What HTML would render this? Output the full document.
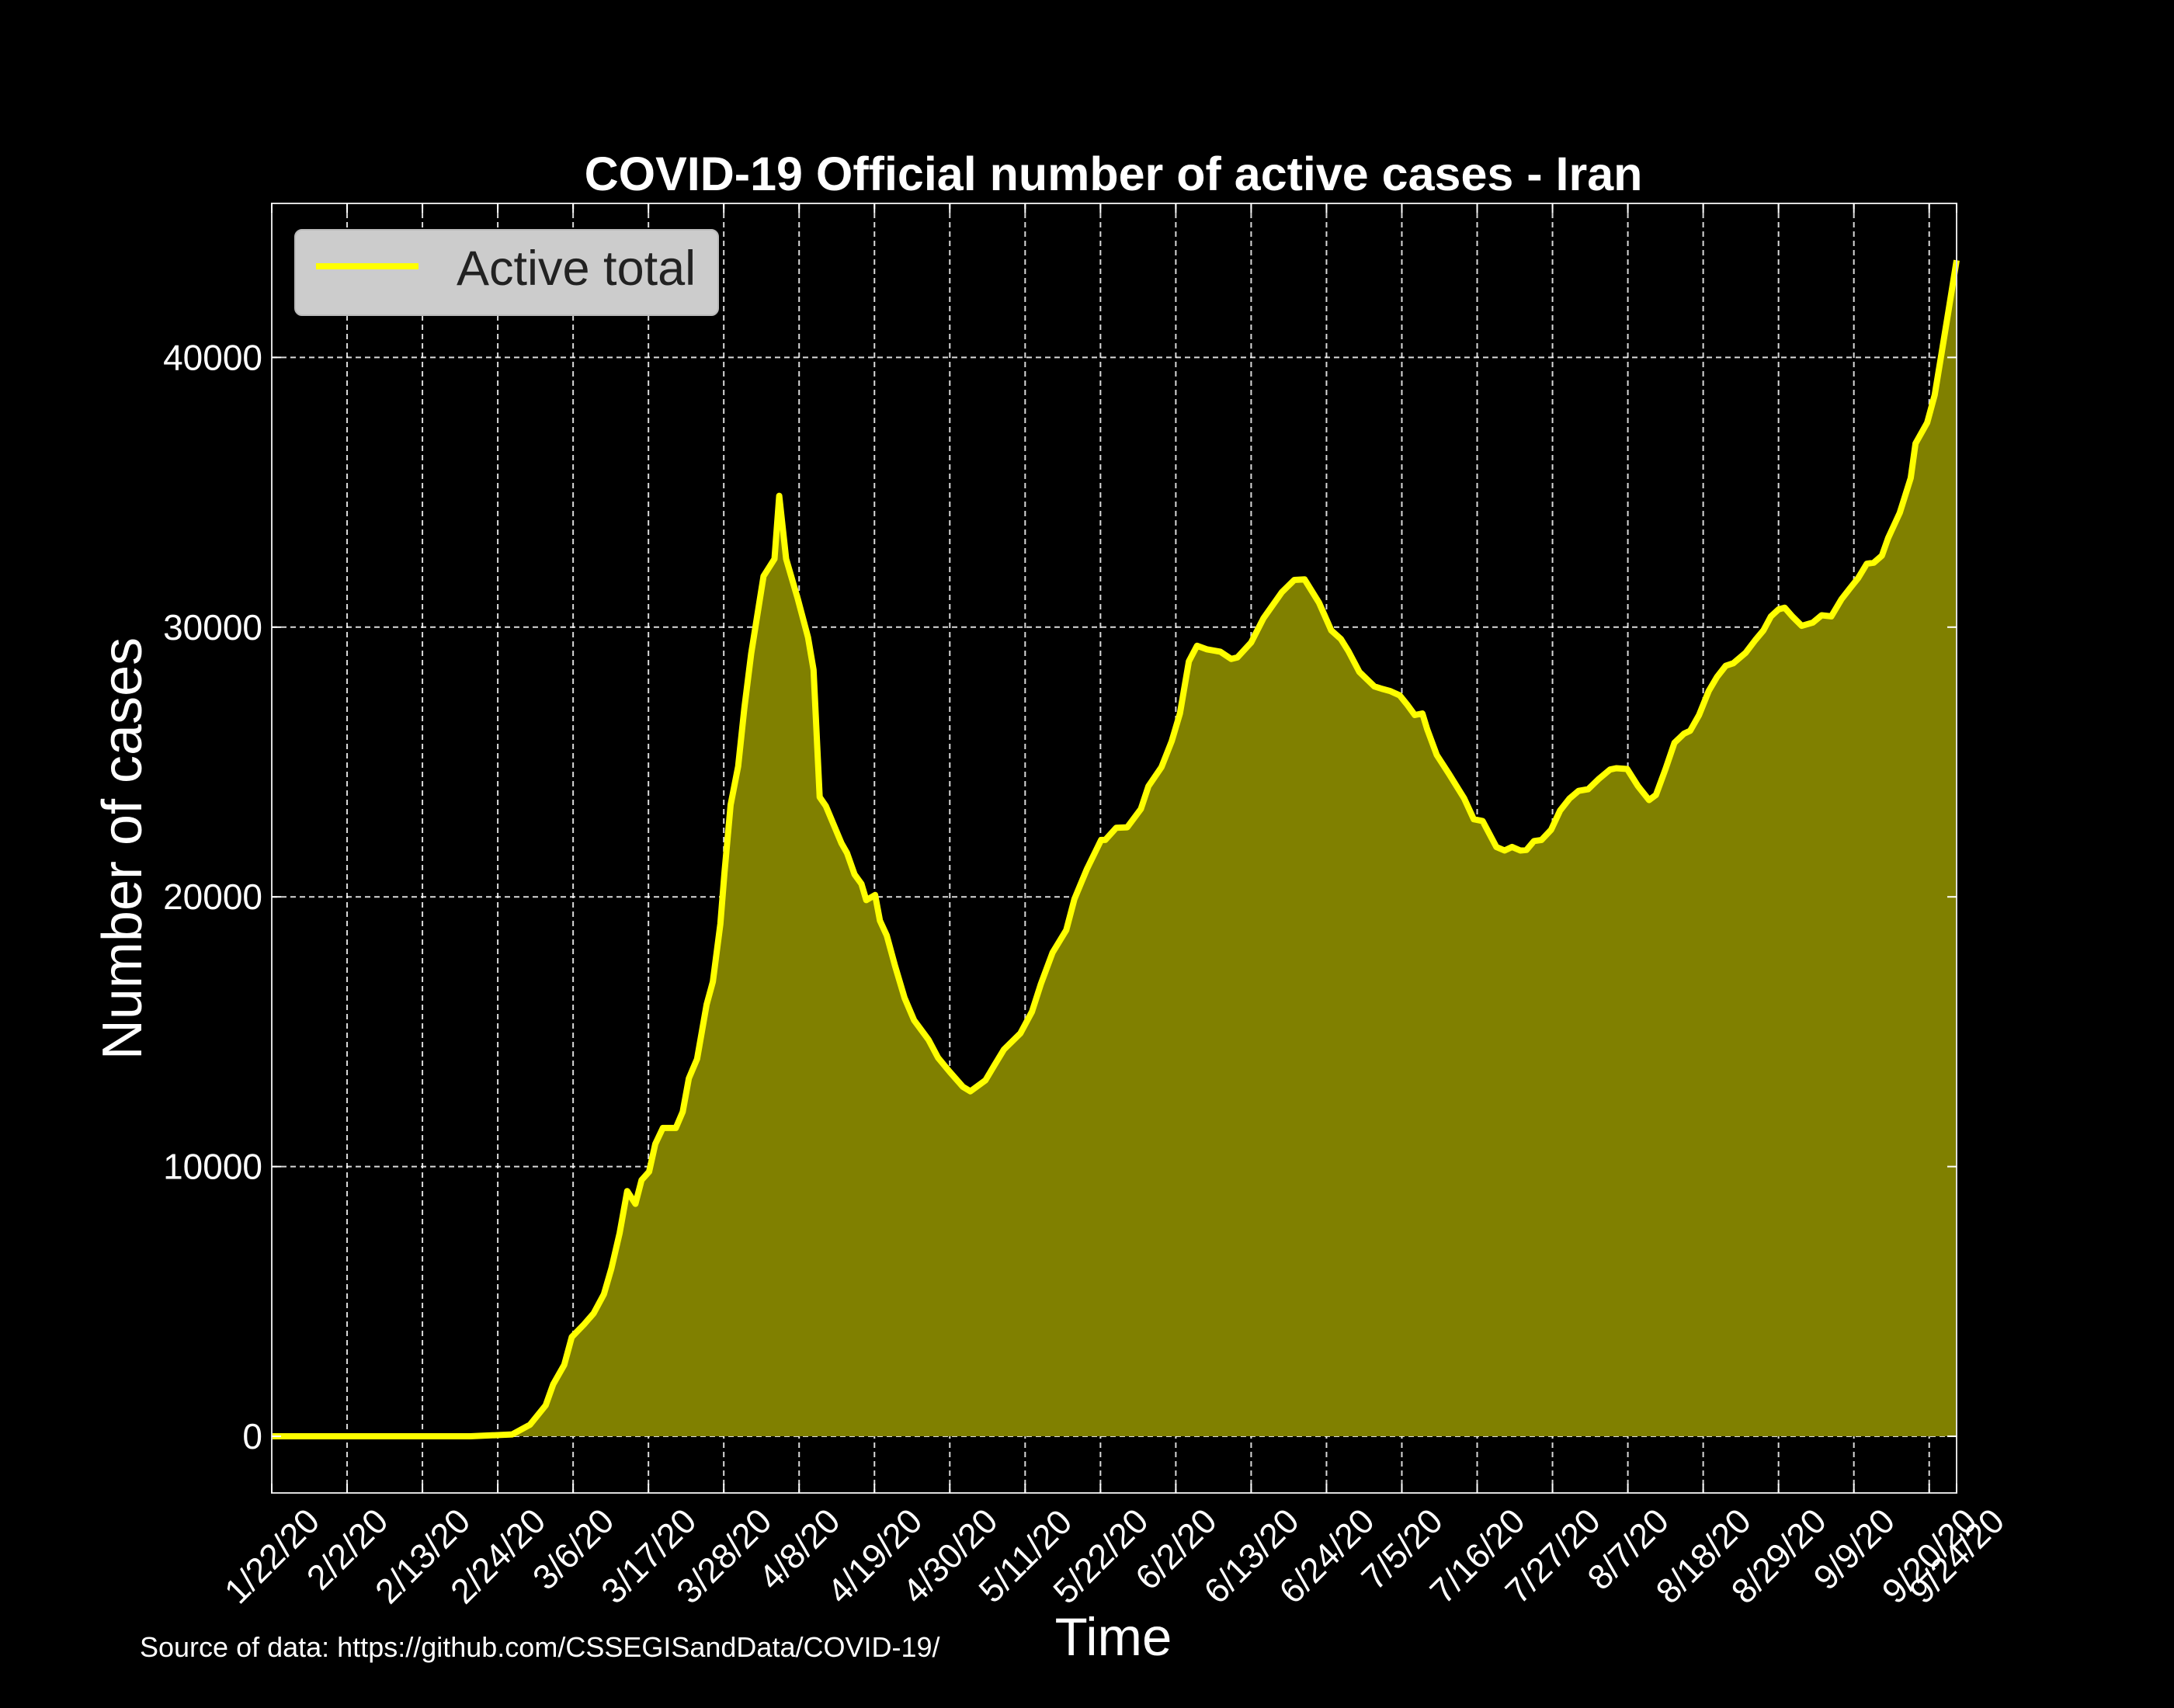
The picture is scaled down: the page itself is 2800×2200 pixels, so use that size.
<!DOCTYPE html>
<html><head><meta charset="utf-8"><style>
html,body{margin:0;padding:0;background:#000;}
svg{display:block;font-family:"Liberation Sans",Arial,sans-serif;}
</style></head><body>
<svg id="chart" width="2800" height="2200" viewBox="0 0 2800 2200" xmlns="http://www.w3.org/2000/svg">
<rect width="2800" height="2200" fill="#000"/>
<g id="grid"></g>
<g id="series"></g>
<g id="axes"></g>
<text x="1434" y="245" text-anchor="middle" fill="#fff" font-size="61" font-weight="bold">COVID-19 Official number of active cases - Iran</text>
<text x="1434" y="2132" text-anchor="middle" fill="#fff" font-size="69">Time</text>
<text transform="translate(182,1093) rotate(-90)" text-anchor="middle" fill="#fff" font-size="72">Number of cases</text>
<text x="180" y="2134" fill="#fff" font-size="36">Source of data: https://github.com/CSSEGISandData/COVID-19/</text>
<g>
<rect x="380" y="296" width="545" height="110" rx="9" fill="#cccccc" stroke="#bbb" stroke-width="2"/>
<line x1="407" y1="343" x2="539" y2="343" stroke="#ffff00" stroke-width="8"/>
<text x="588" y="367" fill="#222" font-size="63">Active total</text>
</g>
</svg>
<script>
// Data: day offset from 1/22/20 and active cases
const days = [0,29,35.1,37.7,40,41.1,42.7,43.8,45.6,47,48.5,49.6,50.8,51.9,53.1,54,55.1,56,57.1,59,60,60.9,62.1,63.5,64.4,65.5,66.1,67,68.1,69,70,71.8,73.4,74.1,75.1,76.8,78.3,79.1,80,80.9,83.2,84,85.1,86.1,86.8,88.1,88.8,89.8,91,92.4,93.8,95.9,97.3,99,100.9,102,104.2,105.5,106.9,109.3,111,112.3,114,116,117.2,119,121.1,121.7,123.3,124.9,126.9,128,129.9,131.4,132.6,133.9,135.1,136.5,138.5,140.1,141,143,144.8,147.5,149.3,150.8,152.9,154.7,156.1,157.2,158.8,161,161.9,163.3,164.7,165.8,166.9,168,168.7,170.1,171.9,174.1,175.5,176.8,178.8,180,181.1,182.3,183.2,184.3,185.4,186.8,188.1,189.5,190.8,192.2,193.7,195.4,196.3,197.9,199.5,201.1,202.1,203.5,204.8,206.2,207.1,208.4,209.8,211,212.3,213.4,215.2,216.6,217.8,218.9,220,220.9,222,223.4,225,226.3,227.7,229.2,230.4,231.6,232.9,233.9,235.1,236,237.7,239.3,240,241.7,242.8,243.8,244.8,246];
const activeCases = [0,0,70,430,1150,1930,2650,3680,4150,4560,5270,6230,7540,9090,8620,9500,9810,10840,11430,11430,12030,13270,13990,16010,16850,19000,20900,23410,24840,27000,29020,31890,32530,34870,32530,31050,29620,28420,23700,23370,21980,21620,20830,20480,19880,20070,19120,18570,17450,16250,15420,14700,14030,13510,12960,12790,13200,13750,14340,14940,15740,16770,17930,18770,19920,21020,22110,22110,22560,22580,23260,24100,24810,25770,26800,28730,29310,29180,29090,28820,28880,29430,30330,31300,31750,31770,30910,29880,29560,29110,28340,27800,27730,27630,27470,27120,26740,26800,26220,25260,24550,23650,22880,22810,21850,21720,21850,21720,21740,22070,22110,22490,23200,23650,23930,23990,24360,24720,24770,24740,24100,23590,23780,24740,25710,26050,26160,26740,27630,28150,28570,28660,29050,29520,29880,30400,30660,30720,30400,30050,30170,30440,30400,31040,31430,31810,32350,32390,32650,33300,34240,35530,36810,37580,38610,40150,41700,43600];
const tickDays = [0,11,22,33,44,55,66,77,88,99,110,121,132,143,154,165,176,187,198,209,220,231,242,246];
const tickLabels = ["1/22/20","2/2/20","2/13/20","2/24/20","3/6/20","3/17/20","3/28/20","4/8/20","4/19/20","4/30/20","5/11/20","5/22/20","6/2/20","6/13/20","6/24/20","7/5/20","7/16/20","7/27/20","8/7/20","8/18/20","8/29/20","9/9/20","9/20/20","9/24/20"];
const yTicks = [0,10000,20000,30000,40000];

const L=350,R=2520,T=262,B=1923;
const xMin=0,xMax=246,yMin=-2100,yMax=45710;
const xs=d=>L+(d-xMin)/(xMax-xMin)*(R-L);
const ys=v=>B-(v-yMin)/(yMax-yMin)*(B-T);
const NS="http://www.w3.org/2000/svg";
function mk(tag,attrs,parent){const e=document.createElementNS(NS,tag);for(const k in attrs)e.setAttribute(k,attrs[k]);parent.appendChild(e);return e;}
const grid=document.getElementById('grid'),series=document.getElementById('series'),axes=document.getElementById('axes');

tickDays.forEach((d,i)=>{
  const g=mk('line',{x1:xs(d),x2:xs(d),y1:T,y2:B,stroke:'#fff','stroke-opacity':0.85,'stroke-width':2,'stroke-dasharray':'7,5'},grid);
  
  
});
yTicks.forEach(v=>{
  const g=mk('line',{x1:L,x2:R,y1:ys(v),y2:ys(v),stroke:'#fff','stroke-opacity':0.85,'stroke-width':2,'stroke-dasharray':'7,5'},grid);
  
  
});

let pts=days.map((d,i)=>xs(d).toFixed(1)+','+ys(activeCases[i]).toFixed(1));
const area=mk('polygon',{points:xs(days[0])+','+ys(0)+' '+pts.join(' ')+' '+xs(days[days.length-1])+','+ys(0),fill:'#808000'},series);


const line=mk('polyline',{points:pts.join(' '),fill:'none',stroke:'#ffff00','stroke-width':8,'stroke-linejoin':'round'},series);



const frame=mk('rect',{x:L,y:T,width:R-L,height:B-T,fill:'none',stroke:'#ddd','stroke-width':2},axes);



yTicks.forEach(v=>{
  const y=ys(v);
  mk('line',{x1:L,x2:L+12,y1:y,y2:y,stroke:'#fff','stroke-width':2},axes);
  mk('line',{x1:R,x2:R-12,y1:y,y2:y,stroke:'#fff','stroke-width':2},axes);
  const t=mk('text',{x:338,y:y+16,'text-anchor':'end',fill:'#fff','font-size':46},axes);
  t.textContent=String(v);
  
  
});
const FS=45;
tickDays.forEach((d,i)=>{
  const x=xs(d);
  mk('line',{x1:x,x2:x,y1:B,y2:B-12,stroke:'#fff','stroke-width':2},axes);
  mk('line',{x1:x,x2:x,y1:T,y2:T+12,stroke:'#fff','stroke-width':2},axes);
  const t=mk('text',{x:0,y:FS*0.35,'text-anchor':'middle',fill:'#fff','font-size':FS},axes);
  t.textContent=tickLabels[i];
  
  
  let w=0;for(const c of tickLabels[i]) w+=(c==='/'?0.278:0.556)*FS;
  const hh=(w+FS)*0.7071/2;
  t.setAttribute('transform','translate('+x+','+(B+12+hh)+') rotate(-45)');
});
</script>
</body></html>
